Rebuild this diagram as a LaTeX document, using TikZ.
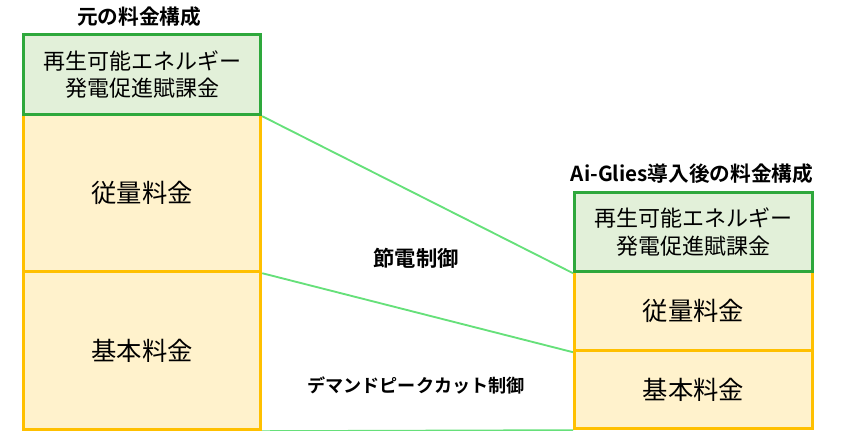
\documentclass[tikz,border=0pt]{standalone}
\usepackage{fontspec}
\newfontfamily\jp{Noto Sans CJK JP}
\newfontfamily\jpb{Noto Sans CJK JP Bold}
\definecolor{gline}{HTML}{2EA83C}
\definecolor{gfill}{HTML}{E2F0D9}
\definecolor{yline}{HTML}{FFC000}
\definecolor{yfill}{HTML}{FFF2CC}
\definecolor{conn}{HTML}{66E07A}
\tikzset{
  greenbox/.style={draw=gline,fill=gfill,line width=2.4pt,inner sep=0pt,align=center,font=\jp\fontsize{16.5}{20.5}\selectfont},
  yellowbox/.style={draw=yline,fill=yfill,line width=2.4pt,inner sep=0pt,align=center,font=\jp\fontsize{19}{23}\selectfont},
  ttl/.style={font=\jpb\fontsize{15.5}{18}\selectfont},
  lbl/.style={font=\jpb\fontsize{16}{19}\selectfont},
  lblsmall/.style={font=\jpb\fontsize{13.6}{16}\selectfont},
  connector/.style={draw=conn,line width=1.4pt}
}
\begin{document}
\begin{tikzpicture}[x=0.75pt,y=-0.75pt]
\useasboundingbox (0,0) rectangle (851,430);
% left column
\node[yellowbox,minimum width=237*0.75pt,minimum height=157*0.75pt,anchor=north west] (ly1) at (22,113) {従量料金};
\node[yellowbox,minimum width=237*0.75pt,minimum height=158*0.75pt,anchor=north west] (ly2) at (22,270) {基本料金};
\node[greenbox,minimum width=237*0.75pt,minimum height=80*0.75pt,anchor=north west] (lg) at (22,33) {再生可能エネルギー\\発電促進賦課金};
% right column
\node[yellowbox,minimum width=238*0.75pt,minimum height=79*0.75pt,anchor=north west] (ry1) at (573,270) {従量料金};
\node[yellowbox,minimum width=238*0.75pt,minimum height=78*0.75pt,anchor=north west] (ry2) at (573,349) {基本料金};
\node[greenbox,minimum width=238*0.75pt,minimum height=79*0.75pt,anchor=north west] (rg) at (573,191) {再生可能エネルギー\\発電促進賦課金};
% titles
\node[ttl] (t1) at (139,17) {元の料金構成};
\node[ttl] (t2) at (692,174) {Ai-Glies導入後の料金構成};
\node[lbl] (c1) at (416,258) {節電制御};
\node[lblsmall] (c2) at (416,385) {デマンドピークカット制御};
% connectors
\draw[connector] (lg.south east) -- (rg.south west);
\draw[connector] (ly1.south east) -- (ry1.south west);
\draw[connector] (ly2.south east) -- (ry2.south west);
\end{tikzpicture}
\end{document}
